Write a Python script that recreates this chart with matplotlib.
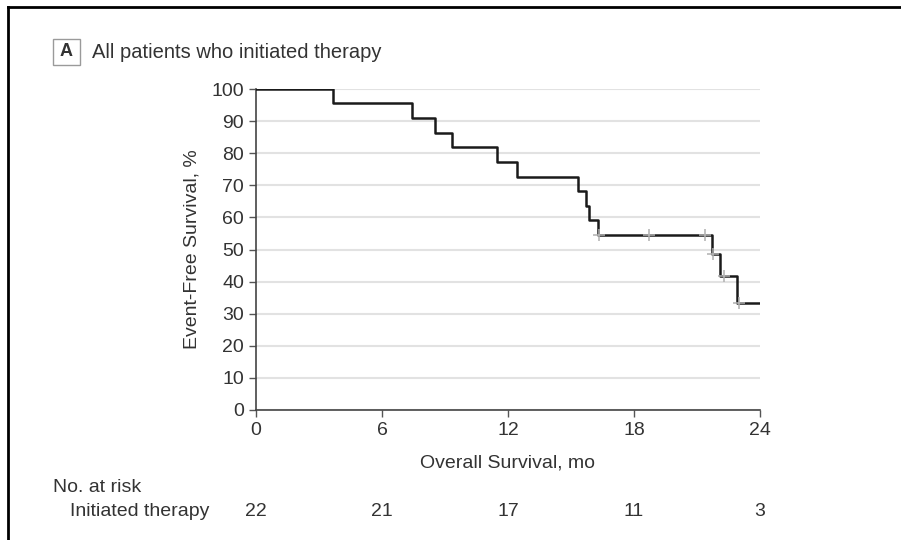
import matplotlib.pyplot as plt
from matplotlib.lines import Line2D
from matplotlib.patches import Rectangle

# Kaplan-Meier step curve: times (months) where the curve drops and its level after each drop
step_times = [0, 3.67, 7.41, 8.52, 9.35, 11.46, 12.41, 15.35, 15.71, 15.87, 16.27,
              21.72, 22.10, 22.89, 24]
step_surv = [100, 95.5, 90.9, 86.4, 81.8, 77.3, 72.7, 68.2, 63.6, 59.1, 54.5,
             48.5, 41.6, 33.3, 33.3]

# censored observations
censor_times = [16.33, 18.70, 21.38, 21.78, 22.30, 23.0]
censor_surv = [54.5, 54.5, 54.5, 48.5, 41.6, 33.3]

risk_times = [0, 6, 12, 18, 24]
risk_counts = [22, 21, 17, 11, 3]

plt.rcParams["font.family"] = ["Liberation Sans", "DejaVu Sans"]
txt = "#333333"
W, H = 901, 540

fig = plt.figure(figsize=(9.01, 5.4), dpi=100)
ax = fig.add_axes([256 / W, 1 - 410 / H, 504 / W, 321 / H])

ax.step(step_times, step_surv, where="post", color="#1a1a1a", lw=1.8, zorder=3)
ax.plot(censor_times, censor_surv, ls="none", marker="+", ms=8, mew=1.1,
        color="#b0b0b0", zorder=4)

ax.set_xlim(0, 24)
ax.set_ylim(0, 100)
ax.set_xticks(risk_times)
ax.set_yticks(range(0, 101, 10))
ax.yaxis.grid(True, color="#e2e2e2", lw=1.5)
ax.set_axisbelow(True)
for s in ["top", "right"]:
    ax.spines[s].set_visible(False)
for s in ["left", "bottom"]:
    ax.spines[s].set_color("#444444")
    ax.spines[s].set_linewidth(1.2)
ax.tick_params(colors="#555555", labelcolor=txt, labelsize=14, length=5, width=1)
ax.set_xlabel("Overall Survival, mo", fontsize=14, color=txt, labelpad=11)
ax.set_ylabel("Event-Free Survival, %", fontsize=14, color=txt, labelpad=8)

# panel label
fig.patches.append(Rectangle((53 / W, 1 - 65 / H), 27 / W, 26 / H,
                             transform=fig.transFigure, fill=False,
                             ec="#9a9a9a", lw=1))
fig.text(66.5 / W, 1 - 52 / H, "A", ha="center", va="center",
         fontsize=13, fontweight="bold", color=txt)
fig.text(92 / W, 1 - 52 / H, "All patients who initiated therapy",
         ha="left", va="center", fontsize=14.5, color=txt)

# number at risk table
fig.text(53 / W, 1 - 487 / H, "No. at risk", ha="left", va="center",
         fontsize=14, color=txt)
fig.text(70 / W, 1 - 512 / H, "Initiated therapy", ha="left", va="center",
         fontsize=14, color=txt)
for t, n in zip(risk_times, risk_counts):
    x_fig = fig.transFigure.inverted().transform(ax.transData.transform((t, 0)))[0]
    fig.text(x_fig, 1 - 512 / H, str(n), ha="center", va="center",
             fontsize=14, color=txt)

# outer frame (top and left edges)
fig.add_artist(Line2D([8 / W, 1], [1 - 7 / H, 1 - 7 / H],
                      transform=fig.transFigure, color="black", lw=2))
fig.add_artist(Line2D([8 / W, 8 / W], [0, 1 - 7 / H],
                      transform=fig.transFigure, color="black", lw=2))

fig.savefig("out.png", dpi=100)
